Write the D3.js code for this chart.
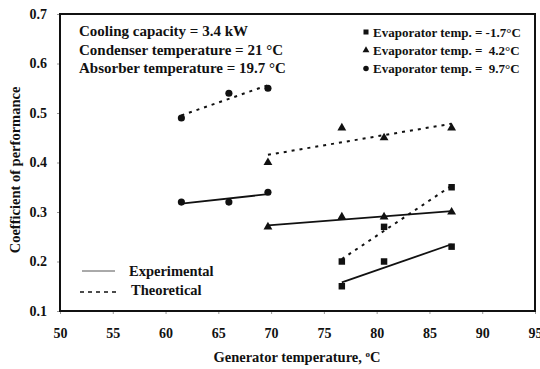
<!DOCTYPE html>
<html><head><meta charset="utf-8">
<script src="https://cdn.jsdelivr.net/npm/d3@7"></script>
<style>
body{margin:0;background:#fff;}
</style></head>
<body><svg id="c" width="540" height="369"></svg>
<script>
const xTicks = [50,55,60,65,70,75,80,85,90,95];
const yTicks = [0.1,0.2,0.3,0.4,0.5,0.6,0.7];
const seriesNames = ["Evaporator temp. = -1.7\u00B0C","Evaporator temp. =  4.2\u00B0C","Evaporator temp. =  9.7\u00B0C"];
// generator temperatures per evaporator series
const genTempSq = [76.7, 80.7, 87.1];
const genTempTri = [69.7, 76.7, 80.7, 87.1];
const genTempCir = [61.5, 66.0, 69.7];
// experimental COP
const expSq = [0.15, 0.20, 0.23];
const expTri = [0.27, 0.29, 0.29, 0.30];
const expCir = [0.32, 0.32, 0.34];
// theoretical COP
const thSq = [0.20, 0.27, 0.35];
const thTri = [0.40, 0.47, 0.45, 0.47];
const thCir = [0.49, 0.54, 0.55];
const infoLines = ["Cooling capacity = 3.4 kW","Condenser temperature = 21 \u00B0C","Absorber temperature = 19.7 \u00B0C"];

const FONT = "'Liberation Serif', 'Times New Roman', Times, 'DejaVu Serif', serif";
const svg = d3.select("#c");
const L=60,R=535,T=14,B=311;
const x = d3.scaleLinear().domain([50,95]).range([L,R]);
const y = d3.scaleLinear().domain([0.1,0.7]).range([B,T]);

const xa = svg.append("g").attr("transform",`translate(0,${B})`)
  .call(d3.axisBottom(x).tickValues(xTicks).tickSize(3).tickPadding(14).tickFormat(d3.format("d")));
const ya = svg.append("g").attr("transform",`translate(${L},0)`)
  .call(d3.axisLeft(y).tickValues(yTicks).tickSize(3).tickPadding(10).tickFormat(d3.format(".1f")));
[xa,ya].forEach(a=>{a.attr("font-family",FONT).attr("font-size",14);a.select(".domain").remove();a.selectAll("text").attr("font-weight","bold").attr("fill","#111");a.selectAll("line").attr("stroke","#999");});

svg.append("rect").attr("x",L).attr("y",T).attr("width",R-L).attr("height",B-T)
  .attr("fill","none").attr("stroke","#111").attr("stroke-width",2);

const series = [
  {t:genTempSq,e:expSq,th:thSq,s:d3.symbolSquare,size:42},
  {t:genTempTri,e:expTri,th:thTri,s:d3.symbolTriangle,size:34},
  {t:genTempCir,e:expCir,th:thCir,s:d3.symbolCircle,size:40}
];
function fit(xs,ys){
  const mx=d3.mean(xs),my=d3.mean(ys);
  let sxy=0,sxx=0;xs.forEach((v,i)=>{sxy+=(v-mx)*(ys[i]-my);sxx+=(v-mx)*(v-mx);});
  const b=sxy/sxx,a=my-b*mx;
  const x0=d3.min(xs),x1=d3.max(xs);
  return [[x0,a+b*x0],[x1,a+b*x1]];
}
const line = d3.line().x(d=>x(d[0])).y(d=>y(d[1]));
series.forEach(s=>{
  svg.append("path").attr("d",line(fit(s.t,s.e))).attr("stroke","#111").attr("stroke-width",1.8).attr("fill","none");
  svg.append("path").attr("d",line(fit(s.t,s.th))).attr("stroke","#111").attr("stroke-width",2).attr("stroke-dasharray","3,5").attr("fill","none");
  [s.e,s.th].forEach(vals=>{
    svg.selectAll(null).data(vals.map((v,i)=>[s.t[i],v])).enter().append("path")
      .attr("d",d3.symbol().type(s.s).size(s.size))
      .attr("transform",d=>`translate(${x(d[0])},${y(d[1])})`).attr("fill","#111");
  });
});

function txt(xx,yy,size,t){
  return svg.append("text").attr("x",xx).attr("y",yy).attr("font-family",FONT).attr("font-weight","bold")
    .attr("font-size",size).attr("fill","#111").text(t);
}
// info text
infoLines.forEach((t,i)=>{ txt(79,36+i*18.5,15,t); });
// right legend
seriesNames.forEach((t,i)=>{
  const yy = 32+i*18.3;
  svg.append("path").attr("d",d3.symbol().type(series[i].s).size(series[i].size*0.6)).attr("transform",`translate(366,${yy})`).attr("fill","#111");
  txt(373,yy+4.5,13,t).attr("xml:space","preserve").style("white-space","pre");
});
// line style legend
svg.append("line").attr("x1",82).attr("x2",115).attr("y1",271).attr("y2",271).attr("stroke","#555").attr("stroke-width",1);
svg.append("line").attr("x1",80).attr("x2",117).attr("y1",292).attr("y2",292).attr("stroke","#111").attr("stroke-width",1.5).attr("stroke-dasharray","4,4");
txt(129,276,14.5,"Experimental");
txt(131,295,14.5,"Theoretical");

// axis titles
const xt = txt(297,362,14.5,"").attr("text-anchor","middle");
xt.append("tspan").text("Generator temperature, ");
xt.append("tspan").attr("dy",-5).attr("font-size",9).text("o");
xt.append("tspan").attr("dy",5).text("C");
txt(0,0,14.5,"Coefficient of performance").attr("transform","translate(20,170) rotate(-90)").attr("text-anchor","middle");
</script></body></html>
